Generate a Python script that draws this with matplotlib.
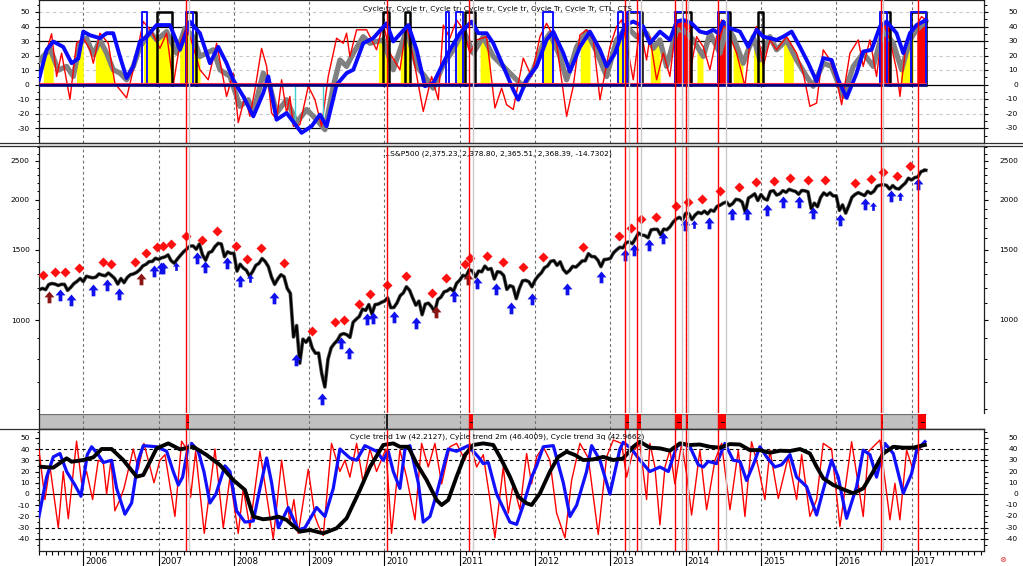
"""S&P500 with cycle-trend oscillators: three stacked panes plus a signal strip."""

import matplotlib
matplotlib.use("Agg")
import matplotlib.pyplot as plt
import matplotlib.transforms as mtransforms
import numpy as np
from matplotlib.lines import Line2D
from matplotlib.path import Path
from matplotlib.ticker import FixedFormatter, FixedLocator, NullFormatter

plt.rcParams["font.family"] = ["DejaVu Sans"]

# ---------------------------------------------------------------- price data
# S&P500 level at mid-month and at month-end, May 2005 .. Feb 2017
spx_first = (2005, 5)
spx_mid = [1165, 1200, 1227, 1230, 1228, 1186, 1233, 1270,
           1287, 1275, 1304, 1290, 1292, 1230, 1240, 1298, 1316, 1366, 1400, 1427,
           1431, 1455, 1387, 1452, 1505, 1532, 1549, 1411, 1484, 1555, 1440, 1468,
           1325, 1349, 1288, 1370, 1425, 1360, 1228, 1298, 1200, 907, 780, 880,
           850, 827, 680, 852, 890, 925, 905, 1005, 1065, 1093, 1093, 1107,
           1136, 1075, 1150, 1211, 1135, 1115, 1096, 1080, 1125, 1176, 1200, 1236,
           1293, 1336, 1281, 1320, 1338, 1266, 1316, 1193, 1210, 1200, 1257, 1211,
           1289, 1351, 1402, 1370, 1338, 1330, 1356, 1405, 1465, 1440, 1360, 1419,
           1472, 1520, 1560, 1552, 1650, 1626, 1680, 1685, 1688, 1710, 1790, 1781,
           1845, 1830, 1846, 1842, 1870, 1937, 1973, 1955, 1998, 1862, 2040, 1990,
           2011, 2097, 2053, 2106, 2122, 2096, 2108, 2091, 1960, 2023, 2050, 2043,
           1880, 1850, 2027, 2082, 2047, 2072, 2161, 2180, 2125, 2133, 2164, 2262,
           2270, 2349]
spx_end = [1191, 1191, 1234, 1220, 1228, 1207, 1249, 1248,
           1280, 1280, 1295, 1311, 1270, 1270, 1277, 1304, 1336, 1378, 1401, 1418,
           1438, 1407, 1421, 1482, 1531, 1503, 1455, 1474, 1527, 1549, 1481, 1468,
           1379, 1331, 1323, 1386, 1400, 1280, 1267, 1283, 1166, 969, 896, 903,
           826, 735, 798, 873, 919, 919, 987, 1021, 1057, 1036, 1096, 1115,
           1074, 1104, 1169, 1187, 1089, 1031, 1102, 1049, 1141, 1183, 1181, 1258,
           1286, 1327, 1326, 1364, 1345, 1321, 1292, 1219, 1131, 1253, 1247, 1258,
           1312, 1366, 1408, 1398, 1310, 1362, 1379, 1407, 1441, 1412, 1416, 1426,
           1498, 1515, 1569, 1598, 1631, 1606, 1686, 1633, 1682, 1757, 1806, 1848,
           1783, 1859, 1872, 1884, 1924, 1960, 1931, 2003, 1972, 2018, 2068, 2059,
           1995, 2105, 2068, 2086, 2107, 2063, 2104, 1900, 1920, 2079, 2080, 2044,
           1940, 1932, 2060, 2065, 2097, 2099, 2174, 2171, 2168, 2126, 2199, 2239,
           2279, 2364]
spx_tail_t = [2017.17, 2017.19]
spx_tail = [2373, 2368]

# sell marks (red diamonds) above price
sell_t = [2005.469, 2005.624, 2005.761, 2005.947, 2006.262, 2006.368, 2006.683, 2006.829,
          2006.979, 2007.058, 2007.161, 2007.364, 2007.576, 2007.780, 2008.028, 2008.174,
          2008.360, 2008.669, 2009.033, 2009.347, 2009.458, 2009.657, 2009.807, 2010.027,
          2010.281, 2010.627, 2010.817, 2011.069, 2011.135, 2011.357, 2011.574, 2011.843,
          2012.101, 2012.632, 2013.110, 2013.274, 2013.402, 2013.606, 2013.875, 2014.037,
          2014.219, 2014.462, 2014.712, 2014.933, 2015.173, 2015.381, 2015.620, 2015.850,
          2016.248, 2016.457, 2016.616, 2016.810, 2016.975]
sell_v = [1295, 1316, 1316, 1351, 1399, 1380, 1396, 1468,
          1525, 1534, 1549, 1622, 1588, 1672, 1529, 1423,
          1516, 1386, 940, 989, 998, 1095, 1161, 1222,
          1288, 1170, 1271, 1383, 1429, 1448, 1394, 1359,
          1440, 1525, 1619, 1701, 1789, 1812, 1931, 1972,
          2007, 2098, 2150, 2209, 2222, 2269, 2243, 2239,
          2204, 2256, 2340, 2287, 2431]

# buy marks (blue arrows) below price
buy_t = [2005.691, 2005.837, 2006.129, 2006.319, 2006.478, 2006.939, 2007.035, 2007.062,
         2007.510, 2007.620, 2007.908, 2008.085, 2008.533, 2008.821, 2009.174, 2009.426,
         2009.525, 2009.772, 2009.851, 2010.120, 2010.422, 2010.927, 2011.228, 2011.481,
         2011.676, 2011.963, 2012.420, 2012.875, 2013.198, 2013.313, 2013.509, 2013.703,
         2013.995, 2014.309, 2014.612, 2014.810, 2015.076, 2015.292, 2015.509, 2015.691,
         2016.053, 2016.381, 2016.722, 2017.081]
buy_v = [1196, 1161, 1230, 1266, 1205, 1372, 1396, 1396,
         1479, 1407, 1435, 1295, 1173, 822, 656, 905,
         858, 1043, 1047, 1053, 1019, 1189, 1279, 1240,
         1111, 1170, 1240, 1328, 1503, 1549, 1594, 1657,
         1789, 1806, 1911, 1906, 1947, 2042, 2042, 1914,
         1841, 2015, 2114, 2261]
buy_small_t = [2007.227, 2008.218, 2014.106, 2016.487, 2016.842]
buy_small_v = [1396, 1301, 1778, 1976, 2093]
cover_t = [2005.544, 2006.770, 2010.684, 2011.105]
cover_v = [1184, 1313, 1086, 1308]

# signal periods (red line at start, grey line at end, red in the strip)
signal_start = [2007.364, 2011.126, 2013.198, 2013.357, 2013.858, 2014.000, 2014.433, 2016.590, 2017.090]
signal_end = [2007.405, 2011.170, 2013.250, 2013.410, 2013.950, 2014.030, 2014.540, 2016.620, 2017.190]
exit_marks = [2010.029]

# ---------------------------------------------------------------- top pane
top_blue_t = [2005.411, 2005.513, 2005.602, 2005.734, 2005.845, 2005.934, 2006.000, 2006.089,
              2006.221, 2006.310, 2006.398, 2006.487, 2006.575, 2006.664, 2006.753, 2006.841,
              2006.974, 2007.151, 2007.284, 2007.417, 2007.549, 2007.682, 2007.793, 2007.903,
              2007.992, 2008.125, 2008.258, 2008.390, 2008.457, 2008.567, 2008.700, 2008.899,
              2009.032, 2009.143, 2009.231, 2009.364, 2009.497, 2009.586, 2009.718, 2009.851,
              2010.028, 2010.117, 2010.316, 2010.427, 2010.537, 2010.648, 2010.737, 2010.869,
              2011.002, 2011.157, 2011.246, 2011.356, 2011.445, 2011.578, 2011.710, 2011.777,
              2011.888, 2012.020, 2012.153, 2012.242, 2012.375, 2012.463, 2012.596, 2012.729,
              2012.862, 2012.950, 2013.061, 2013.194, 2013.304, 2013.437, 2013.525, 2013.658,
              2013.791, 2013.880, 2013.968, 2014.079, 2014.189, 2014.278, 2014.367, 2014.433,
              2014.499, 2014.588, 2014.721, 2014.831, 2014.942, 2015.030, 2015.119, 2015.208,
              2015.296, 2015.407, 2015.518, 2015.628, 2015.739, 2015.827, 2015.938, 2016.026,
              2016.137, 2016.270, 2016.358, 2016.469, 2016.580, 2016.668, 2016.801, 2016.890,
              2016.978, 2017.067, 2017.155, 2017.191]
top_blue_v = [3.4, 24, 29.7, 26, 14.8, 18, 36.5, 34,
              32, 35.4, 35.4, 19.4, 4.6, 12.6, 29.7, 33,
              41, 41, 24, 43.4, 35.4, 14.8, 26, 14.8,
              3.4, -8, -21.7, -5.7, 5.7, -24, -19.4, -33,
              -28.5, -20.5, -28.5, 0, 8, 10.3, 28.5, 32,
              42.2, 29.7, 41, 24, -1, 1, 10.3, 24,
              35.4, 43.4, 35.4, 35.4, 28.5, 12.6, -3.4, -10.3,
              3.4, 12.6, 30.8, 36.5, 21.7, 9, 26, 36.5,
              24, 12.6, 21.7, 41, 43.4, 40, 28.5, 36.5,
              30.8, 43.4, 44.5, 42.2, 36.5, 35.4, 37.7, 35.4,
              43.4, 38.8, 36.5, 26, 37.7, 33, 32, 30.8,
              33, 36.5, 26, 14.8, 2.3, 18.3, 17, 3.4,
              -9, 8, 22.8, 24, 40, 43.4, 35.4, 21.7,
              35.4, 41, 43.4, 44.5]

top_gray_t = [2005.411, 2005.557, 2005.668, 2005.779, 2005.867, 2005.956, 2006.044, 2006.133,
              2006.221, 2006.310, 2006.398, 2006.487, 2006.575, 2006.664, 2006.753, 2006.885,
              2006.974, 2007.107, 2007.239, 2007.350, 2007.461, 2007.549, 2007.726, 2007.815,
              2007.948, 2008.081, 2008.191, 2008.258, 2008.390, 2008.479, 2008.567, 2008.700,
              2008.833, 2008.966, 2009.099, 2009.209, 2009.320, 2009.408, 2009.497, 2009.586,
              2009.718, 2009.807, 2009.984, 2010.117, 2010.294, 2010.427, 2010.537, 2010.648,
              2010.781, 2010.914, 2011.047, 2011.179, 2011.312, 2011.445, 2011.578, 2011.710,
              2011.843, 2011.976, 2012.109, 2012.197, 2012.330, 2012.419, 2012.552, 2012.684,
              2012.817, 2012.950, 2013.083, 2013.216, 2013.348, 2013.481, 2013.570, 2013.658,
              2013.747, 2013.880, 2013.968, 2014.101, 2014.234, 2014.322, 2014.455, 2014.544,
              2014.632, 2014.765, 2014.898, 2014.986, 2015.119, 2015.208, 2015.340, 2015.473,
              2015.606, 2015.694, 2015.827, 2015.938, 2016.093, 2016.226, 2016.358, 2016.491,
              2016.624, 2016.757, 2016.868, 2016.978, 2017.067, 2017.191]
top_gray_v = [16, 25, 10, 12.6, 5.7, 28.5, 32, 20.5,
              30.8, 21.7, 10.3, 8, 3.4, 12.6, 26, 36.5,
              30.8, 36.5, 21.7, 38.8, 33, 19.4, 24, 10.3,
              5.7, -14.8, -10.3, -19.4, 8, -1, -19.4, -10.3,
              -26, -17, -24, -30.8, -1, 17, 12.6, 21.7,
              33, 28.5, 30.8, 10.3, 37.7, 12.6, 5.7, -2.3,
              13.7, 24, 37.7, 21.7, 33, 19.4, 12.6, 5.7,
              -1, 10.3, 28.5, 35.4, 19.4, 3.4, 26, 36.5,
              22.8, 5.7, 30.8, 40, 33, 35.4, 25, 30.8,
              12.6, 37.7, 37.7, 30.8, 19.4, 35.4, 21.7, 40,
              33, 14.8, 33, 17, 33, 24, 30.8, 17,
              5.7, -1, 14.8, 12.6, -8, 12.6, 21.7, 12.6,
              37.7, 28.5, 10.3, 30.8, 37.7, 43.4]

top_red_t = [2005.411, 2005.491, 2005.579, 2005.646, 2005.712, 2005.823, 2005.911, 2006.000,
             2006.089, 2006.133, 2006.221, 2006.332, 2006.420, 2006.487, 2006.575, 2006.664,
             2006.797, 2006.907, 2007.018, 2007.107, 2007.195, 2007.284, 2007.372, 2007.461,
             2007.549, 2007.660, 2007.771, 2007.903, 2007.992, 2008.058, 2008.147, 2008.213,
             2008.280, 2008.368, 2008.435, 2008.501, 2008.567, 2008.634, 2008.700, 2008.744,
             2008.789, 2008.877, 2008.988, 2009.077, 2009.165, 2009.253, 2009.364, 2009.453,
             2009.497, 2009.541, 2009.630, 2009.763, 2009.895, 2009.984, 2010.072, 2010.205,
             2010.294, 2010.405, 2010.515, 2010.626, 2010.715, 2010.781, 2010.869, 2010.958,
             2011.047, 2011.135, 2011.224, 2011.356, 2011.467, 2011.556, 2011.622, 2011.710,
             2011.843, 2011.954, 2012.065, 2012.153, 2012.286, 2012.419, 2012.507, 2012.596,
             2012.684, 2012.773, 2012.862, 2012.994, 2013.083, 2013.149, 2013.216, 2013.304,
             2013.393, 2013.481, 2013.525, 2013.614, 2013.703, 2013.791, 2013.880, 2013.968,
             2014.057, 2014.145, 2014.234, 2014.322, 2014.411, 2014.477, 2014.588, 2014.676,
             2014.787, 2014.853, 2014.942, 2015.030, 2015.119, 2015.208, 2015.340, 2015.473,
             2015.562, 2015.650, 2015.739, 2015.827, 2015.916, 2016.005, 2016.071, 2016.182,
             2016.292, 2016.358, 2016.447, 2016.535, 2016.624, 2016.713, 2016.801, 2016.846,
             2016.934, 2017.067, 2017.133, 2017.191]
top_red_v = [3.4, 19, 35, 5.7, 21.7, -10, 28.5, 32,
             24, 14.8, 35.4, 28.5, 1, -3.4, -9, 10.3,
             43.4, 36.5, 25, 35.4, 0, 28.5, 40, 26,
             10.3, 3.4, 28.5, -8, 8, -26, -8, -21.7,
             -3.4, 25, 12.6, -19.4, -24, 3.4, -19.4, -8,
             -28.5, -27.4, -1, -10.3, -28.5, 5.7, 32, 28.5,
             35.4, 19.4, 37.7, 37.7, 24, 42.2, 21.7, 10.3,
             41, 12.6, -18.3, 5.7, -10.3, 41, 32, 44.5,
             37.7, 21.7, 30.8, 33, -16, -2.3, -13.7, -17,
             18.3, 5.7, 33, 42.2, 28.5, -21.7, -1, 34.2,
             37.7, 30.8, -10.3, 26, 40, 44.5, 28.5, 3.4,
             40, 17, 33, 3.4, 21.7, 5.7, 44.5, 35.4,
             8, 33, 26, 10.3, 33, 44.5, 33, 21.7,
             -1, 28.5, 40, 12.6, 30.8, 24, 33, 21.7,
             8, -14.8, -12.6, 24, 17, 3.4, -13.7, 21.7,
             30.8, 12.6, 30.8, 5.7, 42.2, 30.8, 10.3, -8,
             30.8, 41, 46.8, 44.5]

# yellow (long) and red (signal) columns under the oscillators
yellow_start = [2005.47, 2005.91, 2006.16, 2006.80, 2007.28, 2009.92, 2010.21, 2010.96, 2011.27,
                2012.11, 2012.60, 2013.08, 2013.53, 2014.15, 2014.63, 2014.90, 2015.30, 2016.85]
yellow_end = [2005.60, 2006.00, 2006.40, 2007.20, 2007.55, 2010.03, 2010.34, 2011.07, 2011.40,
              2012.24, 2012.73, 2013.22, 2013.66, 2014.23, 2014.76, 2015.03, 2015.43, 2017.02]
redfill_start = [2013.86, 2014.43, 2016.58, 2017.07]
redfill_end = [2014.08, 2014.59, 2016.71, 2017.19]

# CTL / CTS pulses (0 -> 50)
black_pulse_start = [2006.974, 2007.363, 2009.984, 2010.272, 2011.069, 2013.216, 2013.858, 2014.433,
                     2014.964, 2016.580, 2016.999]
black_pulse_end = [2007.173, 2007.496, 2010.055, 2010.338, 2011.201, 2013.424, 2014.070, 2014.588,
                   2015.022, 2016.713, 2017.190]
blue_pulse_start = [2006.775, 2007.363, 2010.816, 2010.949, 2012.100, 2013.105, 2013.216, 2013.858,
                    2014.433, 2016.580, 2016.999]
blue_pulse_end = [2006.841, 2007.452, 2010.861, 2011.047, 2012.242, 2013.162, 2013.393, 2013.968,
                  2014.566, 2016.677, 2017.190]
cyan_t = [2008.811, 2009.178]
cyan_low = [-24, -23]

# ---------------------------------------------------------------- bottom pane
trend3q_t = [2005.411, 2005.601, 2005.779, 2005.845, 2006.000, 2006.133, 2006.243, 2006.376,
             2006.531, 2006.708, 2006.797, 2006.974, 2007.129, 2007.284, 2007.461, 2007.638,
             2007.815, 2007.992, 2008.147, 2008.258, 2008.390, 2008.501, 2008.590, 2008.700,
             2008.877, 2009.010, 2009.187, 2009.364, 2009.497, 2009.674, 2009.807, 2009.984,
             2010.117, 2010.205, 2010.316, 2010.427, 2010.560, 2010.692, 2010.759, 2010.847,
             2010.958, 2011.069, 2011.179, 2011.312, 2011.445, 2011.534, 2011.666, 2011.777,
             2011.888, 2011.954, 2012.065, 2012.197, 2012.308, 2012.419, 2012.529, 2012.640,
             2012.773, 2012.906, 2013.039, 2013.171, 2013.304, 2013.393, 2013.525, 2013.658,
             2013.791, 2013.924, 2014.057, 2014.189, 2014.322, 2014.455, 2014.588, 2014.721,
             2014.853, 2014.986, 2015.119, 2015.252, 2015.385, 2015.518, 2015.650, 2015.739,
             2015.827, 2015.960, 2016.093, 2016.226, 2016.358, 2016.491, 2016.624, 2016.757,
             2016.890, 2017.023, 2017.111, 2017.177]
trend3q_v = [24.3, 23.4, 31.7, 28.7, 30.2, 32.6, 40, 40,
             30.2, 15.4, 16.9, 40.6, 45, 39.7, 42, 34.7,
             25.8, 12.4, 3.6, -20.1, -22.5, -21.6, -20.1, -23.1,
             -33.5, -32, -35, -30.5, -21.6, 3.6, 24, 43.6,
             45, 42, 42, 27, 12.4, -5.3, -9.8, -5.3,
             15.4, 34.7, 43.6, 45, 43.6, 33, 15.4, -2.4,
             -8.3, -9.8, 0.6, 19.9, 33, 37.6, 34.7, 30.2,
             30.8, 33, 30.2, 31.7, 42, 46.5, 41.2, 40.6,
             38.5, 45, 43.6, 44, 42, 41.2, 44.4, 44,
             39, 39, 36.7, 38.5, 38.2, 40, 36, 24.3,
             13.9, 8, 4.1, 0.6, 5, 19.9, 36, 42,
             41.2, 41.2, 42.7, 43.6]

trend2m_t = [2005.411, 2005.513, 2005.602, 2005.690, 2005.779, 2005.889, 2005.969, 2006.053,
             2006.111, 2006.199, 2006.266, 2006.376, 2006.443, 2006.553, 2006.642, 2006.730,
             2006.797, 2006.974, 2007.107, 2007.195, 2007.262, 2007.319, 2007.394, 2007.438,
             2007.527, 2007.602, 2007.682, 2007.762, 2007.881, 2007.948, 2008.036, 2008.147,
             2008.258, 2008.346, 2008.435, 2008.501, 2008.590, 2008.722, 2008.855, 2008.944,
             2009.099, 2009.209, 2009.320, 2009.408, 2009.541, 2009.630, 2009.740, 2009.895,
             2009.984, 2010.050, 2010.117, 2010.205, 2010.272, 2010.338, 2010.449, 2010.515,
             2010.604, 2010.692, 2010.847, 2010.958, 2011.113, 2011.246, 2011.312, 2011.379,
             2011.489, 2011.666, 2011.755, 2011.843, 2011.954, 2012.020, 2012.109, 2012.242,
             2012.375, 2012.463, 2012.552, 2012.684, 2012.751, 2012.862, 2012.950, 2012.994,
             2013.127, 2013.171, 2013.282, 2013.393, 2013.525, 2013.658, 2013.770, 2013.880,
             2013.946, 2014.057, 2014.167, 2014.234, 2014.300, 2014.411, 2014.521, 2014.632,
             2014.721, 2014.809, 2014.898, 2014.986, 2015.075, 2015.185, 2015.274, 2015.385,
             2015.473, 2015.606, 2015.739, 2015.827, 2015.938, 2016.026, 2016.137, 2016.270,
             2016.358, 2016.447, 2016.535, 2016.646, 2016.757, 2016.890, 2017.000, 2017.067,
             2017.177]
trend2m_v = [-20, 15, 33, 36, 20, 8, -2, 35,
             42, 35, 28, 30, 5, -18, -8, 30,
             43, 42, 38, 20, 8, 15, 42, 45,
             38, 20, -8, 0, 25, 20, -15, -25,
             -24, 5, 32, 10, -30, -12, -32, -30,
             -12, -20, 5, 40, 32, 30, 43, 38,
             30, 38, 20, 5, 40, 43, 10, -25,
             -20, 0, 40, 38, 43, 33, 27, 28,
             0, -25, -27, -10, 15, 25, 42, 43,
             10, -20, -10, 20, 43, 30, 10, 0,
             40, 46, 40, 30, 20, 24, 20, 42,
             45, 42, 26, 24, 29, 27, 45, 30,
             29, 12, 26, 42, 33, 24, 26, 35,
             15, 6.5, -18.7, 3.6, 30, 15, -21.6, 6.5,
             39, 35, 15, 45, 36, 0.6, 18, 39,
             46.5]

trend1w_t = [2005.411, 2005.491, 2005.557, 2005.668, 2005.734, 2005.801, 2005.911, 2005.978,
             2006.044, 2006.124, 2006.199, 2006.266, 2006.310, 2006.368, 2006.420, 2006.487,
             2006.540, 2006.664, 2006.730, 2006.806, 2006.939, 2007.018, 2007.085, 2007.217,
             2007.306, 2007.372, 2007.425, 2007.492, 2007.607, 2007.749, 2007.859, 2007.948,
             2008.058, 2008.125, 2008.213, 2008.346, 2008.523, 2008.634, 2008.744, 2008.797,
             2008.855, 2008.988, 2009.077, 2009.121, 2009.187, 2009.297, 2009.408, 2009.475,
             2009.541, 2009.630, 2009.718, 2009.807, 2009.895, 2010.019, 2010.094, 2010.205,
             2010.294, 2010.405, 2010.493, 2010.582, 2010.670, 2010.759, 2010.869, 2010.958,
             2011.069, 2011.135, 2011.224, 2011.312, 2011.401, 2011.467, 2011.578, 2011.644,
             2011.710, 2011.799, 2011.888, 2011.954, 2012.020, 2012.109, 2012.197, 2012.286,
             2012.397, 2012.485, 2012.596, 2012.707, 2012.839, 2012.950, 2013.039, 2013.149,
             2013.216, 2013.304, 2013.393, 2013.481, 2013.525, 2013.592, 2013.658, 2013.725,
             2013.791, 2013.857, 2013.946, 2014.012, 2014.079, 2014.189, 2014.278, 2014.389,
             2014.477, 2014.588, 2014.699, 2014.787, 2014.875, 2014.964, 2015.053, 2015.119,
             2015.230, 2015.362, 2015.473, 2015.540, 2015.650, 2015.739, 2015.827, 2015.938,
             2016.049, 2016.204, 2016.358, 2016.425, 2016.580, 2016.713, 2016.779, 2016.845,
             2016.934, 2017.022, 2017.067, 2017.177]
trend1w_v = [40, -5, 25, -30, 20, -22, 47, 10,
             20, -5, 30, 28, 0, 30, -15, -5,
             5, 40, 22, 45, 10, 30, 35, -20,
             47, 40, -3, 38, -35, 40, -30, 15,
             -35, 5, -30, 38, -40, 30, -25, -5,
             -35, 22, -20, -28, -37, 45, 20, 30,
             15, 45, 10, 40, 20, 40, -35, 39,
             15, -23, 45, 24, 45, 9, 42, 45,
             30, 45, 24, 35, -5, -39, 24, -17,
             9, -14, 36, 9, 33, 42, 30, -17,
             -39, 12, 45, 32, -36, 33, 48, 45,
             15, 39, 44, -5, 45, 24, -27.5, 24,
             39, 9, 45, 18, -18.7, 39, -14, 30,
             45, -14, 39, -20, 46.5, 24, -5, 39,
             -4, 33, -5, 35, -20, -5, 45, 40,
             -29, 46.5, -20, 37.6, 48, -23, 9.5, -23,
             39, 21, 36, 46.5]

top_ticks = [50, 40, 30, 20, 10, 0, -10, -20, -30]
bot_ticks = [50, 40, 30, 20, 10, 0, -10, -20, -30, -40]
price_ticks = [1000, 1500, 2000, 2500]
years = list(range(2006, 2018))

# ---------------------------------------------------------------- layout
W, H = 1023, 566
fig = plt.figure(figsize=(W / 100, H / 100), dpi=100)


def box(x0, y0, x1, y1):
    return [x0 / W, 1 - y1 / H, (x1 - x0) / W, (y1 - y0) / H]


ax_top = fig.add_axes(box(39, 0, 984, 143))
ax_px = fig.add_axes(box(39, 146, 984, 413))
ax_bar = fig.add_axes(box(39, 414, 984, 429))
ax_bot = fig.add_axes(box(39, 429, 984, 551))
axes = [ax_top, ax_px, ax_bar, ax_bot]

X0, X1 = 2005.412, 2017.962
FS = 5.4
for ax in axes:
    ax.set_xlim(X0, X1)
    ax.set_facecolor("white")
    for s in ax.spines.values():
        s.set_linewidth(0.9)
        s.set_color("#202020")

ax_top.set_ylim(-40, 58.2)
ax_px.set_yscale("log")
ax_px.set_ylim(585.6, 2723)
ax_bar.set_ylim(0, 1)
ax_bot.set_ylim(-50.7, 57.8)

data_end = spx_tail_t[-1]

# year grid
for ax in axes:
    for yr in years:
        ax.axvline(yr, color="#707070", lw=0.8, ls=(0, (2.5, 2.5)), zorder=1)

# ---------------------------------------------------------------- top pane
for lv in (50, 20, 10, -10, -20):
    ax_top.axhline(lv, color="#c8c8c8", lw=0.8, ls=(0, (3, 3)), zorder=1)
for lv in (40, 30, 0, -30):
    ax_top.axhline(lv, color="black", lw=0.9, zorder=1)

for s, e in zip(yellow_start, yellow_end):
    tt = np.linspace(s, e, 25)
    yy = np.clip(np.interp(tt, top_gray_t, top_gray_v), 0, None)
    ax_top.fill_between(tt, 0, yy, color="#ffff00", lw=0, zorder=2)
for s, e in zip(redfill_start, redfill_end):
    tt = np.linspace(s, e, 25)
    yy = np.clip(np.interp(tt, top_blue_t, top_blue_v), 0, None)
    ax_top.fill_between(tt, 0, yy, color="#ff0000", lw=0, zorder=2)

ax_top.plot(top_gray_t, top_gray_v, color="#808080", lw=3.8, zorder=3, solid_capstyle="round")
ax_top.plot(top_red_t, top_red_v, color="#ff0000", lw=1.0, zorder=4)
for s, e in zip(black_pulse_start, black_pulse_end):
    ax_top.plot([s, s, e, e], [0, 50, 50, 0], color="black", lw=1.8, zorder=5)
for s, e in zip(blue_pulse_start, blue_pulse_end):
    ax_top.plot([s, s, e, e], [0, 50, 50, 0], color="#1010ff", lw=1.4, zorder=5)
ax_top.vlines(cyan_t, cyan_low, 0, color="#40d0d0", lw=1.0, zorder=4)
ax_top.plot(top_blue_t, top_blue_v, color="#0a0aff", lw=2.8, zorder=6)
ax_top.hlines(0, X0, data_end, color="#000080", lw=2.6, zorder=7)
ax_top.hlines(0.9, X0, data_end, color="#ff3050", lw=0.8, zorder=7)

# ---------------------------------------------------------------- price pane
spx_t, spx_v = [], []
for i, (m_val, e_val) in enumerate(zip(spx_mid, spx_end)):
    k = spx_first[1] - 1 + i
    yr, mo = spx_first[0] + k // 12, k % 12 + 1
    spx_t += [yr + (mo - 0.5) / 12, yr + mo / 12]
    spx_v += [m_val, e_val]
spx_t += spx_tail_t
spx_v += spx_tail
ax_px.plot(spx_t, spx_v, color="#505050", lw=2.6, zorder=3)
ax_px.plot(spx_t, spx_v, color="black", lw=1.5, zorder=3)

ARROW = Path([(0, 0), (0.42, -0.5), (0.16, -0.5), (0.16, -1.0), (-0.16, -1.0),
              (-0.16, -0.5), (-0.42, -0.5), (0, 0)],
             [Path.MOVETO] + [Path.LINETO] * 6 + [Path.CLOSEPOLY])
ax_px.plot(sell_t, sell_v, ls="none", marker="D", ms=4.6, color="#ff1010", mec="none", zorder=4)
ax_px.plot(buy_t, buy_v, ls="none", marker=ARROW, ms=17, color="#1010ee", mec="none", zorder=4)
ax_px.plot(buy_small_t, buy_small_v, ls="none", marker=ARROW, ms=12, color="#1010ee", mec="none", zorder=4)
ax_px.plot(cover_t, cover_v, ls="none", marker=ARROW, ms=17, color="#8b1414", mec="none", zorder=4)
ax_px.spines["bottom"].set_visible(False)

# ---------------------------------------------------------------- signal strip
ax_bar.axvspan(X0, data_end, color="#c0c0c0", lw=0, zorder=0)
ax_bar.hlines(1, X0, data_end, color="#707070", lw=0.9)
for s, e in zip(signal_start, signal_end):
    ax_bar.axvspan(s, e, color="#ff0000", lw=0, zorder=2)
    ax_bar.plot([s + 0.3 * (e - s), s + 0.7 * (e - s)], [0.5, 0.5], color="black", lw=0.7, zorder=3)
for x in exit_marks:
    ax_bar.axvline(x, color="black", lw=1.2, zorder=3)
ax_bar.spines["right"].set_visible(False)
ax_bar.spines["top"].set_visible(False)
ax_bar.set_yticks([])

# ---------------------------------------------------------------- bottom pane
for lv in (40, 30, -30, -40):
    ax_bot.axhline(lv, color="black", lw=0.8, ls=(0, (3, 2.5)), zorder=1)
ax_bot.axhline(0, color="black", lw=0.8, zorder=1)
ax_bot.plot(trend1w_t, trend1w_v, color="#ff0000", lw=1.0, zorder=3)
ax_bot.plot(trend2m_t, trend2m_v, color="#1010ff", lw=2.3, zorder=4)
ax_bot.plot(trend3q_t, trend3q_v, color="black", lw=2.8, zorder=5)

# signal verticals through every pane
for ax in (ax_top, ax_px, ax_bot):
    for x in signal_start + exit_marks:
        ax.axvline(x, color="#ff0000", lw=1.0, zorder=8)
    for x in signal_end[:-1]:
        ax.axvline(x, color="#d0c8c8", lw=1.0, zorder=8)
for x in signal_start:
    ax_bar.axvline(x, color="#ff0000", lw=1.0, zorder=4)

# ---------------------------------------------------------------- ticks
for ax in (ax_top, ax_px, ax_bar):
    ax.set_xticks([])
for ax, ticks in ((ax_top, top_ticks), (ax_bot, bot_ticks)):
    ax.yaxis.set_major_locator(FixedLocator(ticks))
    ax.yaxis.set_major_formatter(FixedFormatter([str(v) for v in ticks]))
    ax.yaxis.set_minor_locator(FixedLocator([v - 5 for v in ticks] + [ticks[0] + 5]))
ax_px.yaxis.set_major_locator(FixedLocator(price_ticks))
ax_px.yaxis.set_major_formatter(FixedFormatter([str(v) for v in price_ticks]))
ax_px.yaxis.set_minor_locator(FixedLocator([v for v in range(600, 2800, 100) if v not in price_ticks]))
ax_px.yaxis.set_minor_formatter(NullFormatter())

for ax in (ax_top, ax_px, ax_bot):
    ax.tick_params(axis="y", which="major", left=True, right=True, direction="out",
                   length=3.2, width=0.8, labelsize=FS, pad=3.5, labelleft=True, labelright=False)
    ax.tick_params(axis="y", which="minor", left=True, right=True, direction="out",
                   length=1.8, width=0.7)
    tr = mtransforms.blended_transform_factory(ax.transAxes, ax.transData)
    xr = (1018 - 39) / (984 - 39)
    for v in ax.yaxis.get_majorticklocs():
        ax.text(xr, v, str(int(v)), transform=tr, ha="right", va="center", fontsize=FS,
                clip_on=False)

ax_bot.xaxis.set_major_locator(FixedLocator(years))
ax_bot.xaxis.set_minor_locator(FixedLocator([y + m / 12 for y in range(2005, 2018) for m in range(12)
                                             if X0 < y + m / 12 < X1]))
ax_bot.xaxis.set_major_formatter(NullFormatter())
ax_bot.tick_params(axis="x", which="major", direction="out", length=11, width=0.8)
ax_bot.tick_params(axis="x", which="minor", direction="out", length=3, width=0.8)
for yr in years:
    ax_bot.annotate(str(yr), xy=(yr, 0), xycoords=("data", "axes fraction"),
                    xytext=(1.5, -7.6), textcoords="offset points",
                    ha="left", va="center", fontsize=6.2)

# ---------------------------------------------------------------- titles / frame
fig.text(363 / W, 1 - 9 / H, "Cycle tr, Cycle tr, Cycle tr, Cycle tr, Cycle tr, Cycle Tr, Cycle Tr, CTL, CTS",
         ha="left", va="center", fontsize=FS)
fig.text(383 / W, 1 - 154 / H, "...S&P500 (2,375.23, 2,378.80, 2,365.51, 2,368.39, -14.7302)",
         ha="left", va="center", fontsize=FS)
fig.text(350 / W, 1 - 437 / H,
         "Cycle trend 1w (42.2127), Cycle trend 2m (46.4009), Cycle trend 3q (42.9662)",
         ha="left", va="center", fontsize=FS)
fig.text(1003 / W, 1 - 560 / H, "\u2297", color="#e04040", ha="center", va="center", fontsize=6)

for ypx in (143, 146):
    fig.add_artist(Line2D([0, 1], [1 - ypx / H] * 2, color="#303030", lw=0.9))
fig.add_artist(Line2D([0, 984 / W], [1 - 429 / H] * 2, color="#303030", lw=0.9))

fig.savefig("out.png", dpi=100)
